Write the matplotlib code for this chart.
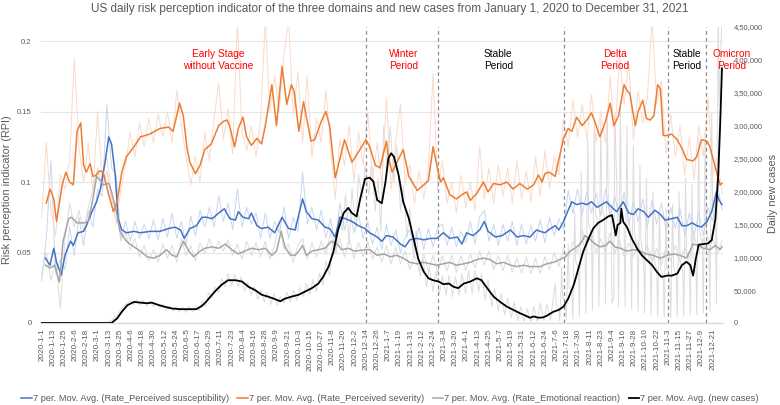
import matplotlib
matplotlib.use("Agg")
import matplotlib.pyplot as plt
import pandas as pd

plt.rcParams['font.family'] = ['Liberation Sans', 'DejaVu Sans']

START = pd.Timestamp("2020-01-01")

# 7-day moving averages (day = days since 2020-01-01)
sev_day = [5, 9, 13, 16, 22, 26, 30, 34, 38, 42, 45, 48, 52, 55, 59, 62, 66, 72, 77, 81, 86, 91, 98, 106,
           116, 127, 136, 141, 148, 152, 156, 159, 165, 170,
           175, 182, 190, 195, 199, 202, 207, 211, 216, 220, 225, 231, 236, 240, 247, 252, 258, 263, 268,
           271, 276, 281, 289, 293, 300, 305, 309, 315, 325, 333, 348,
           352, 358, 363, 370, 372, 376, 388, 394, 403, 410, 415, 420, 424, 428, 431, 438, 445, 451, 456,
           460, 467, 474, 479, 485, 492, 499, 506, 513, 521, 528, 533,
           537, 540, 544, 547, 551, 556, 560, 565, 569, 574, 580, 585, 590, 594, 599, 605, 610, 614, 619,
           625, 629, 631, 637, 640, 645, 649, 653, 657, 661, 664, 667, 671, 676, 682, 687, 692, 699, 703,
           708, 714, 717, 723, 728, 730]
sev_val = [0.085, 0.095, 0.088, 0.072, 0.098, 0.107, 0.100, 0.098, 0.136, 0.142, 0.112, 0.107, 0.113,
           0.104, 0.105, 0.108, 0.107, 0.091, 0.079, 0.086, 0.107, 0.118, 0.124, 0.132,
           0.134, 0.138, 0.139, 0.136, 0.156, 0.147, 0.124, 0.114, 0.106, 0.112,
           0.123, 0.127, 0.140, 0.143, 0.144, 0.139, 0.125, 0.138, 0.146, 0.132, 0.126, 0.131, 0.127,
           0.140, 0.169, 0.140, 0.182, 0.155, 0.169, 0.164, 0.136, 0.157, 0.129, 0.130, 0.143, 0.150,
           0.140, 0.103, 0.130, 0.114, 0.130,
           0.125, 0.112, 0.110, 0.129, 0.118, 0.107, 0.123, 0.104, 0.094, 0.098, 0.101, 0.125, 0.112,
           0.100, 0.103, 0.091, 0.088, 0.091, 0.093, 0.087, 0.092, 0.100, 0.093, 0.099, 0.098, 0.100,
           0.095, 0.099, 0.095, 0.098, 0.105,
           0.100, 0.106, 0.107, 0.106, 0.104, 0.119, 0.131, 0.138, 0.136, 0.146, 0.140, 0.144, 0.149,
           0.142, 0.132, 0.143, 0.156, 0.140, 0.147, 0.169, 0.164, 0.163, 0.140, 0.150, 0.158, 0.145,
           0.144, 0.147, 0.169, 0.166, 0.133, 0.133, 0.134, 0.130, 0.124, 0.116, 0.115, 0.118, 0.130,
           0.129, 0.125, 0.110, 0.098, 0.099]

sus_day = [4, 9, 13, 16, 21, 25, 31, 34, 39, 45, 48, 54, 59, 63, 68, 72, 75, 79, 82, 86, 91, 99, 106,
           116, 127, 136, 143, 149, 153, 159, 166, 172,
           177, 183, 190, 196, 202, 208, 211, 216, 222, 225, 231, 236, 243, 250, 258, 265, 272, 276,
           280, 284, 290, 297, 304, 309, 315, 320, 326, 333, 340, 347,
           352, 360, 365, 370, 377, 385, 390, 395, 403, 410, 417, 424, 431, 438, 446, 451, 456, 463,
           470, 475, 479, 487, 494, 503, 510, 517, 524, 531,
           535, 540, 546, 551, 555, 560, 565, 569, 574, 580, 585, 590, 596, 601, 606, 612, 617, 624,
           630, 635, 640, 646, 651, 658, 664, 669, 676, 682, 687, 692, 698, 703, 708, 714, 719, 724,
           727, 730]
sus_val = [0.046, 0.041, 0.053, 0.043, 0.034, 0.048, 0.058, 0.055, 0.064, 0.065, 0.069, 0.079, 0.086,
           0.095, 0.114, 0.132, 0.127, 0.105, 0.074, 0.066, 0.064, 0.065, 0.064,
           0.065, 0.065, 0.067, 0.068, 0.066, 0.060, 0.067, 0.069, 0.075,
           0.075, 0.074, 0.078, 0.081, 0.074, 0.073, 0.079, 0.075, 0.074, 0.078, 0.069, 0.067, 0.068,
           0.064, 0.075, 0.067, 0.066, 0.077, 0.088, 0.079, 0.074, 0.073, 0.068, 0.067, 0.061, 0.075,
           0.074, 0.072, 0.069, 0.067,
           0.064, 0.061, 0.058, 0.062, 0.061, 0.056, 0.054, 0.059, 0.060, 0.059, 0.060, 0.060, 0.064,
           0.060, 0.061, 0.056, 0.064, 0.062, 0.066, 0.072, 0.065, 0.061, 0.062, 0.066, 0.061, 0.062,
           0.061, 0.066,
           0.065, 0.064, 0.067, 0.069, 0.066, 0.072, 0.080, 0.086, 0.084, 0.085, 0.084, 0.086, 0.082,
           0.084, 0.086, 0.082, 0.079, 0.086, 0.078, 0.077, 0.081, 0.079, 0.075, 0.080, 0.077, 0.073,
           0.074, 0.075, 0.069, 0.069, 0.071, 0.069, 0.068, 0.072, 0.079, 0.093, 0.087, 0.084]

emo_day = [4, 9, 14, 19, 23, 29, 32, 38, 45, 50, 55, 59, 63, 66, 72, 75, 80, 84, 91, 99, 106, 113,
           120, 127, 134, 140, 145, 152, 158, 163, 170,
           175, 183, 190, 197, 204, 211, 218, 225, 233, 240, 247, 252, 257, 261, 267, 272, 276, 280,
           284, 290, 297, 304, 311, 317, 322, 329, 336, 347,
           352, 360, 367, 374, 381, 388, 395, 403, 410, 417, 424, 431, 438, 445, 453, 460, 467, 474,
           481, 488, 496, 503, 510, 517, 524, 531,
           535, 542, 549, 556, 562, 567, 572, 578, 583, 589, 594, 599, 605, 610, 615, 621, 628, 635,
           642, 649, 656, 664, 671, 678, 685, 692, 699, 705, 710, 717, 723, 728, 730]
emo_val = [0.041, 0.039, 0.041, 0.029, 0.058, 0.074, 0.075, 0.071, 0.071, 0.072, 0.088, 0.104, 0.101,
           0.098, 0.099, 0.093, 0.079, 0.065, 0.058, 0.054, 0.051, 0.047, 0.046, 0.048, 0.052, 0.048,
           0.047, 0.058, 0.051, 0.047, 0.051,
           0.053, 0.054, 0.053, 0.056, 0.052, 0.049, 0.051, 0.053, 0.052, 0.053, 0.048, 0.051, 0.065,
           0.054, 0.048, 0.048, 0.051, 0.055, 0.048, 0.051, 0.052, 0.053, 0.058, 0.056, 0.052, 0.053,
           0.051, 0.052,
           0.052, 0.048, 0.049, 0.047, 0.048, 0.046, 0.043, 0.042, 0.043, 0.042, 0.041, 0.042, 0.043,
           0.041, 0.042, 0.043, 0.045, 0.046, 0.045, 0.042, 0.043, 0.041, 0.040, 0.041, 0.040, 0.040,
           0.040, 0.042, 0.043, 0.045, 0.047, 0.051, 0.053, 0.056, 0.062, 0.059, 0.056, 0.054, 0.055,
           0.058, 0.054, 0.053, 0.051, 0.052, 0.051, 0.049, 0.048, 0.046, 0.048, 0.049, 0.048, 0.046,
           0.056, 0.055, 0.053, 0.052, 0.055, 0.052, 0.054]

case_day = [0, 75, 81, 86, 92, 99, 106, 113, 118, 124, 131, 140, 149, 158, 166, 172,
            177, 181, 186, 193, 200, 208, 215, 222, 229, 236, 243, 249, 256, 261, 268, 276, 283, 290,
            297, 302, 308, 313, 318, 324, 329, 333, 338, 342, 347, 352, 356, 360,
            365, 369, 372, 375, 378, 383, 388, 394, 399, 404, 410, 415, 420, 426, 431, 437, 442, 447,
            453, 460, 467, 472, 478, 485, 492, 499, 506, 513, 521, 524, 528, 533,
            538, 542, 549, 555, 560, 565, 571, 576, 581, 587, 592, 597, 603, 608, 612, 614, 616, 618,
            621, 622, 624, 628, 633, 639, 644, 649, 655, 660, 665, 671, 676, 682, 687, 692, 696, 699,
            702, 705, 710, 715, 719, 723, 726, 728, 730]
case_val = [0, 0, 7000, 17000, 27000, 32000, 31000, 30000, 31000, 28000, 25000, 22000, 21000, 21000,
            21000, 26000,
            33000, 40000, 48000, 58000, 65000, 65000, 63000, 55000, 50000, 43000, 40000, 37000, 33000,
            37000, 40000, 43000, 48000, 53000, 60000, 70000, 86000, 108000, 141000, 167000, 175000,
            167000, 162000, 190000, 219000, 221000, 215000, 187000,
            182000, 215000, 250000, 258000, 253000, 225000, 184000, 159000, 129000, 98000, 78000, 68000,
            65000, 63000, 59000, 60000, 55000, 53000, 60000, 63000, 68000, 65000, 53000, 40000, 32000,
            25000, 20000, 15000, 10000, 8000, 10000, 8000,
            8500, 11000, 17000, 20000, 25000, 37000, 58000, 83000, 108000, 129000, 144000, 152000,
            157000, 162000, 164000, 149000, 133000, 149000, 152000, 174000, 154000, 146000, 129000,
            113000, 103000, 96000, 88000, 78000, 70000, 72000, 72000, 75000, 88000, 93000, 88000,
            72000, 98000, 119000, 120000, 121000, 126000, 159000, 225000, 300000, 387000]

# faint daily series, read roughly every 5 days
raw_day = list(range(0, 731, 5))
sev_raw = [0.075, 0.128, 0.080, 0.062, 0.105, 0.095, 0.115, 0.188, 0.125, 0.100,
           0.128, 0.092, 0.150, 0.100, 0.118, 0.090, 0.070, 0.095, 0.112, 0.135,
           0.118, 0.142, 0.125, 0.145, 0.128, 0.148, 0.132, 0.150, 0.128, 0.165,
           0.140, 0.118, 0.098, 0.118, 0.100, 0.135, 0.115, 0.145, 0.170, 0.130,
           0.152, 0.120, 0.215, 0.135, 0.122, 0.140, 0.118, 0.145, 0.215, 0.150,
           0.175, 0.150, 0.190, 0.215, 0.148, 0.178, 0.128, 0.175, 0.118, 0.145,
           0.128, 0.165, 0.125, 0.088, 0.130, 0.112, 0.140, 0.100, 0.135, 0.112,
           0.150, 0.100, 0.128, 0.098, 0.160, 0.095, 0.130, 0.155, 0.100, 0.112,
           0.085, 0.108, 0.088, 0.110, 0.177, 0.095, 0.115, 0.085, 0.100, 0.078,
           0.105, 0.082, 0.100, 0.080, 0.125, 0.088, 0.110, 0.085, 0.112, 0.090,
           0.110, 0.085, 0.115, 0.088, 0.108, 0.086, 0.118, 0.090, 0.122, 0.095,
           0.118, 0.105, 0.145, 0.125, 0.158, 0.132, 0.155, 0.130, 0.162, 0.128,
           0.150, 0.128, 0.175, 0.130, 0.190, 0.155, 0.185, 0.130, 0.165, 0.142,
           0.160, 0.215, 0.155, 0.172, 0.120, 0.148, 0.118, 0.140, 0.105, 0.132,
           0.102, 0.140, 0.118, 0.160, 0.105, 0.118, 0.092]
sus_raw = [0.030, 0.060, 0.115, 0.035, 0.045, 0.038, 0.068, 0.048, 0.075, 0.055,
           0.080, 0.068, 0.095, 0.090, 0.155, 0.110, 0.105, 0.060, 0.072, 0.058,
           0.072, 0.060, 0.070, 0.060, 0.073, 0.059, 0.074, 0.061, 0.078, 0.060,
           0.072, 0.055, 0.076, 0.062, 0.080, 0.068, 0.082, 0.068, 0.090, 0.072,
           0.085, 0.066, 0.095, 0.068, 0.082, 0.070, 0.078, 0.060, 0.078, 0.060,
           0.072, 0.064, 0.082, 0.060, 0.075, 0.065, 0.107, 0.070, 0.082, 0.066,
           0.080, 0.060, 0.074, 0.055, 0.085, 0.066, 0.082, 0.064, 0.077, 0.060,
           0.072, 0.056, 0.068, 0.052, 0.070, 0.055, 0.066, 0.050, 0.061, 0.066,
           0.053, 0.068, 0.052, 0.067, 0.054, 0.068, 0.070, 0.055, 0.068, 0.054,
           0.065, 0.057, 0.072, 0.056, 0.075, 0.080, 0.058, 0.070, 0.055, 0.070,
           0.058, 0.072, 0.055, 0.070, 0.056, 0.069, 0.058, 0.073, 0.057, 0.075,
           0.062, 0.074, 0.066, 0.094, 0.078, 0.095, 0.077, 0.093, 0.078, 0.092,
           0.076, 0.095, 0.075, 0.090, 0.074, 0.093, 0.070, 0.086, 0.072, 0.088,
           0.068, 0.087, 0.070, 0.085, 0.066, 0.082, 0.067, 0.081, 0.062, 0.078,
           0.062, 0.078, 0.062, 0.082, 0.072, 0.100, 0.080]
emo_raw = [0.035, 0.050, 0.030, 0.045, 0.010, 0.060, 0.085, 0.068, 0.080, 0.065,
           0.082, 0.095, 0.110, 0.095, 0.108, 0.088, 0.085, 0.058, 0.065, 0.052,
           0.060, 0.047, 0.055, 0.044, 0.052, 0.043, 0.056, 0.046, 0.055, 0.043,
           0.060, 0.048, 0.055, 0.044, 0.057, 0.049, 0.060, 0.050, 0.058, 0.051,
           0.059, 0.048, 0.056, 0.045, 0.058, 0.048, 0.057, 0.047, 0.058, 0.045,
           0.055, 0.072, 0.052, 0.056, 0.043, 0.055, 0.060, 0.045, 0.057, 0.047,
           0.058, 0.049, 0.064, 0.052, 0.060, 0.047, 0.060, 0.046, 0.057, 0.047,
           0.058, 0.045, 0.054, 0.043, 0.055, 0.042, 0.054, 0.042, 0.051, 0.038,
           0.048, 0.037, 0.049, 0.037, 0.048, 0.036, 0.048, 0.037, 0.048, 0.036,
           0.048, 0.037, 0.049, 0.039, 0.051, 0.041, 0.051, 0.038, 0.048, 0.037,
           0.048, 0.036, 0.046, 0.035, 0.047, 0.035, 0.046, 0.035, 0.047, 0.038,
           0.050, 0.040, 0.053, 0.045, 0.058, 0.050, 0.066, 0.055, 0.064, 0.050,
           0.060, 0.050, 0.064, 0.049, 0.059, 0.047, 0.057, 0.047, 0.057, 0.045,
           0.055, 0.043, 0.053, 0.041, 0.054, 0.044, 0.055, 0.043, 0.053, 0.046,
           0.062, 0.050, 0.060, 0.047, 0.060, 0.049, 0.058]

case_raw_day = [0, 60, 70, 75, 80, 85, 88, 92, 95, 99, 102, 106, 109, 113, 116, 120, 123, 127, 130,
                134, 137, 141, 144, 148, 151, 155, 158, 162, 165, 169, 172, 176, 179, 183, 186, 190,
                193, 197, 200, 204, 207, 211, 214, 218, 221, 225, 228, 232, 235, 239, 242, 246, 249,
                253, 256, 260, 263, 267, 270, 274, 277, 281, 284, 288, 291, 295, 298, 302, 305, 309,
                312, 316, 319, 323, 326, 330, 333, 337, 340, 344, 347, 351, 354, 358, 361, 364, 367,
                371, 374, 378, 381, 385, 388, 392, 395, 399, 402, 406, 409, 413, 416, 420, 423, 427,
                430, 434, 437, 441, 444, 448, 451, 455, 458, 462, 465, 469, 472, 476, 479, 483, 486,
                490, 493, 497, 500, 504, 507, 511, 514, 518, 521, 525, 528, 532, 535, 539, 542, 546,
                551, 552, 555, 556, 558, 559, 562, 563, 565, 566, 569, 570, 572, 573, 576, 577,
                579, 580, 583, 584, 586, 587, 590, 591, 593, 594, 597, 598, 600, 601, 604, 605,
                607, 608, 611, 612, 614, 615, 618, 619, 621, 622, 625, 626, 628, 629, 632, 633,
                635, 636, 639, 640, 642, 643, 646, 647, 649, 650, 653, 654, 656, 657, 660, 661,
                663, 664, 667, 668, 670, 671, 674, 675, 677, 678, 681, 682, 684, 685, 688, 689,
                691, 692, 695, 696, 698, 699, 702, 703, 705, 706, 709, 710, 712, 713, 716, 717,
                719, 720, 723, 724, 726, 727, 729, 730]
case_raw = [0, 0, 1000, 4000, 10000, 20000, 26000, 30000, 34000, 28000, 36000, 27000, 34000, 26000,
            33000, 25000, 31000, 23000, 29000, 19000, 26000, 18000, 25000, 17000, 24000, 16000, 25000,
            17000, 27000, 19000, 33000, 25000, 46000, 38000, 55000, 46000, 68000, 55000, 75000, 57000,
            74000, 55000, 70000, 48000, 62000, 42000, 56000, 36000, 50000, 32000, 47000, 28000, 44000,
            27000, 40000, 30000, 47000, 32000, 50000, 34000, 54000, 40000, 60000, 44000, 66000, 48000,
            75000, 58000, 95000, 72000, 125000, 105000, 165000, 140000, 195000, 120000, 205000,
            140000, 225000, 190000, 240000, 195000, 245000, 170000, 220000, 140000, 300000, 230000,
            300000, 215000, 270000, 170000, 210000, 130000, 175000, 100000, 140000, 70000, 100000,
            55000, 85000, 48000, 78000, 45000, 72000, 42000, 72000, 40000, 70000, 42000, 75000, 45000,
            80000, 45000, 80000, 48000, 75000, 35000, 65000, 25000, 52000, 18000, 45000, 12000, 38000,
            8000, 32000, 3000, 25000, 2000, 22000, 1000, 25000, 2000, 30000, 3000, 28000, 5000,
            60000, 30000, 22000, 3000, 85000, 40000, 30000, 4000, 120000, 55000, 45000, 6000,
            170000, 95000, 80000, 10000, 230000, 130000, 110000, 15000, 280000, 150000, 135000, 20000,
            300000, 170000, 150000, 25000, 310000, 175000, 160000, 28000, 320000, 185000, 165000,
            30000, 40000, 320000, 160000, 25000, 330000, 170000, 150000, 25000, 300000, 160000,
            140000, 22000, 270000, 140000, 115000, 18000, 240000, 125000, 100000, 15000, 220000,
            110000, 90000, 12000, 200000, 100000, 80000, 10000, 170000, 85000, 70000, 8000, 175000,
            85000, 70000, 8000, 180000, 85000, 72000, 9000, 200000, 95000, 80000, 10000, 220000,
            105000, 90000, 12000, 210000, 100000, 90000, 12000, 280000, 140000, 120000, 15000,
            290000, 140000, 125000, 18000, 320000, 170000, 160000, 30000, 480000, 330000, 420000,
            470000]

# study periods
period_lines = ["2020-12-14", "2021-03-01", "2021-07-14", "2021-11-03", "2021-12-14"]
period_names = ["Early Stage\nwithout Vaccine", "Winter\nPeriod", "Stable\nPeriod",
                "Delta\nPeriod", "Stable\nPeriod", "Omicron\nPeriod"]
period_label_day = [189, 388, 490, 615, 692, 740]
period_colors = ["#FF0000", "#FF0000", "#000000", "#FF0000", "#000000", "#FF0000"]

legend_labels = ["7 per. Mov. Avg. (Rate_Perceived susceptibility)",
                 "7 per. Mov. Avg. (Rate_Perceived severity)",
                 "7 per. Mov. Avg. (Rate_Emotional reaction)",
                 "7 per. Mov. Avg. (new cases)"]


def to_dates(days):
    return START + pd.to_timedelta(days, unit="D")


def indian(x, pos):
    s = str(int(round(x)))
    if len(s) <= 3:
        return s
    head, tail = s[:-3], s[-3:]
    parts = []
    while len(head) > 2:
        parts.insert(0, head[-2:])
        head = head[:-2]
    if head:
        parts.insert(0, head)
    return ",".join(parts + [tail])


TXT = "#595959"
fig = plt.figure(figsize=(7.8, 4.05), dpi=100)
ax = fig.add_axes([0.0522, 0.2025, 0.8746, 0.7309])
ax_bg = ax.twinx()   # raw new cases, kept behind the RPI lines
ax2 = ax.twinx()
ax_bg.set_zorder(0)
ax.set_zorder(1)
ax2.set_zorder(2)
ax.patch.set_visible(False)

ax_bg.plot(to_dates(case_raw_day), case_raw, color="#DCDCDC", lw=0.7)
ax.plot(to_dates(raw_day), emo_raw, color="#DCDCDC", lw=0.7, zorder=1)
ax.plot(to_dates(raw_day), sus_raw, color="#C9D6EF", lw=0.7, zorder=1)
ax.plot(to_dates(raw_day), sev_raw, color="#FADACA", lw=0.7, zorder=1)

l1, = ax.plot(to_dates(sus_day), sus_val, color="#4472C4", lw=1.1, zorder=3)
l2, = ax.plot(to_dates(sev_day), sev_val, color="#ED7D31", lw=1.1, zorder=3)
l3, = ax.plot(to_dates(emo_day), emo_val, color="#A5A5A5", lw=1.1, zorder=3)
l4, = ax2.plot(to_dates(case_day), case_val, color="black", lw=1.3)

for d in period_lines:
    ax.axvline(pd.Timestamp(d), color="#8C8C8C", lw=0.9, ls=(0, (3, 2.5)), zorder=2)

for name, day, c in zip(period_names, period_label_day, period_colors):
    ax.text(to_dates([day])[0], 0.887, name, color=c, fontsize=7.3, ha="center", va="center",
            linespacing=1.25, transform=ax.get_xaxis_transform(), zorder=5)

ax.set_xlim(to_dates([-1])[0], to_dates([731])[0])
ax.set_ylim(0, 0.21)
for a in (ax_bg, ax2):
    a.set_ylim(0, 450000)
ax_bg.set_yticks([])

ticks = to_dates(list(range(0, 721, 12)))
ax.set_xticks(ticks)
ax.set_xticklabels([f"{t.year}-{t.month}-{t.day}" for t in ticks], rotation=90, fontsize=5.9,
                   color=TXT)
ax.set_yticks([0, 0.05, 0.1, 0.15, 0.2])
ax.set_yticklabels(["0", "0.05", "0.1", "0.15", "0.2"], fontsize=5.5, color=TXT)
ax2.set_yticks(range(0, 450001, 50000))
ax2.yaxis.set_major_formatter(plt.FuncFormatter(indian))
ax2.tick_params(axis="y", labelsize=5.4, labelcolor=TXT, length=0, pad=7.5)
ax.tick_params(axis="both", length=0)
ax.tick_params(axis="y", pad=6.5)
ax.tick_params(axis="x", pad=4)
ax.grid(axis="y", color="#E6E6E6", lw=0.8)
ax.set_axisbelow(True)

for a in (ax, ax_bg, ax2):
    for s in ("top", "left", "right"):
        a.spines[s].set_visible(False)
    a.spines["bottom"].set_color("#D9D9D9")

ax.set_ylabel("Risk perception indicator (RPI)", fontsize=7.8, color=TXT)
ax.yaxis.set_label_coords(-0.042, 0.45)
ax2.set_ylabel("Daily new cases", fontsize=7.8, color=TXT)
ax2.yaxis.set_label_coords(1.066, 0.436)
fig.text(0.5, 0.979, "US daily risk perception indicator of the three domains and new cases from "
         "January 1, 2020 to December 31, 2021", ha="center", va="center", fontsize=8.5, color=TXT)

fig.legend([l1, l2, l3, l4], legend_labels, loc="center", bbox_to_anchor=(0.5, 0.016), ncol=4,
           frameon=False, fontsize=6.7, handlelength=1.1, handletextpad=0.15, columnspacing=0.9,
           labelcolor=TXT)

fig.savefig("out.png", dpi=100)
